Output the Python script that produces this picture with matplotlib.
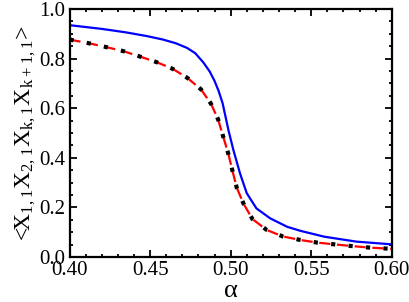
import matplotlib
matplotlib.use("Agg")
import matplotlib.pyplot as plt
from matplotlib.ticker import MultipleLocator

plt.rcParams['font.family'] = 'serif'
plt.rcParams['font.serif'] = ['Liberation Serif', 'DejaVu Serif']
plt.rcParams['mathtext.fontset'] = 'custom'
plt.rcParams['mathtext.rm'] = 'Liberation Serif'
plt.rcParams['mathtext.default'] = 'regular'

# solid blue curve
alpha_blue = [0.400, 0.420, 0.435, 0.448, 0.458, 0.466, 0.473, 0.478, 0.483, 0.487,
              0.490, 0.4925, 0.4950, 0.4986, 0.5017, 0.5058, 0.510, 0.516, 0.5245,
              0.535, 0.543, 0.558, 0.578, 0.600]
corr_blue = [0.935, 0.920, 0.906, 0.891, 0.877, 0.862, 0.843, 0.822, 0.785, 0.748,
             0.710, 0.670, 0.620, 0.512, 0.431, 0.337, 0.257, 0.196, 0.156,
             0.122, 0.106, 0.082, 0.062, 0.051]

# red dashed / black dotted curve (they lie on top of each other)
alpha_red = [0.400, 0.412, 0.4225, 0.433, 0.443, 0.454, 0.464, 0.473, 0.4816, 0.4878,
             0.4922, 0.4953, 0.4986, 0.5011, 0.5038, 0.5079, 0.5135, 0.5224, 0.5323,
             0.543, 0.5538, 0.5644, 0.5754, 0.5861, 0.5969, 0.600]
corr_red = [0.877, 0.862, 0.847, 0.831, 0.810, 0.786, 0.759, 0.723, 0.676, 0.618,
            0.555, 0.487, 0.415, 0.348, 0.279, 0.216, 0.153, 0.109, 0.083,
            0.069, 0.058, 0.051, 0.044, 0.038, 0.034, 0.033]

fig = plt.figure(figsize=(4.09, 3.02), dpi=100)
ax = fig.add_axes([0.170, 0.149, 0.788, 0.821])

ax.plot(alpha_blue, corr_blue, color='#0000ff', lw=1.6)
ax.plot(alpha_red, corr_red, color='#ff0000', lw=1.6, dashes=(5, 3))
ax.plot(alpha_red, corr_red, color='black', lw=3.0, dashes=(1, 3.2))

ax.set_xlim(0.40, 0.60)
ax.set_ylim(0.0, 1.0)
ax.xaxis.set_major_locator(MultipleLocator(0.05))
ax.xaxis.set_minor_locator(MultipleLocator(0.01))
ax.yaxis.set_major_locator(MultipleLocator(0.2))
ax.yaxis.set_minor_locator(MultipleLocator(0.05))
ax.xaxis.set_major_formatter(plt.FormatStrFormatter('%.2f'))
ax.yaxis.set_major_formatter(plt.FormatStrFormatter('%.1f'))

ax.tick_params(which='both', direction='in', top=True, right=True, width=1.3,
               labelsize=15, pad=3)
ax.tick_params(which='major', length=5)
ax.tick_params(which='minor', length=2.5)
for s in ax.spines.values():
    s.set_linewidth(1.6)

ax.set_xlabel('α', fontsize=19, labelpad=0)
ax.set_ylabel('<X$_{1,1}$X$_{2,1}$X$_{k,1}$X$_{k+1,1}$>', fontsize=17, labelpad=1)

fig.savefig('out.png', dpi=100)
